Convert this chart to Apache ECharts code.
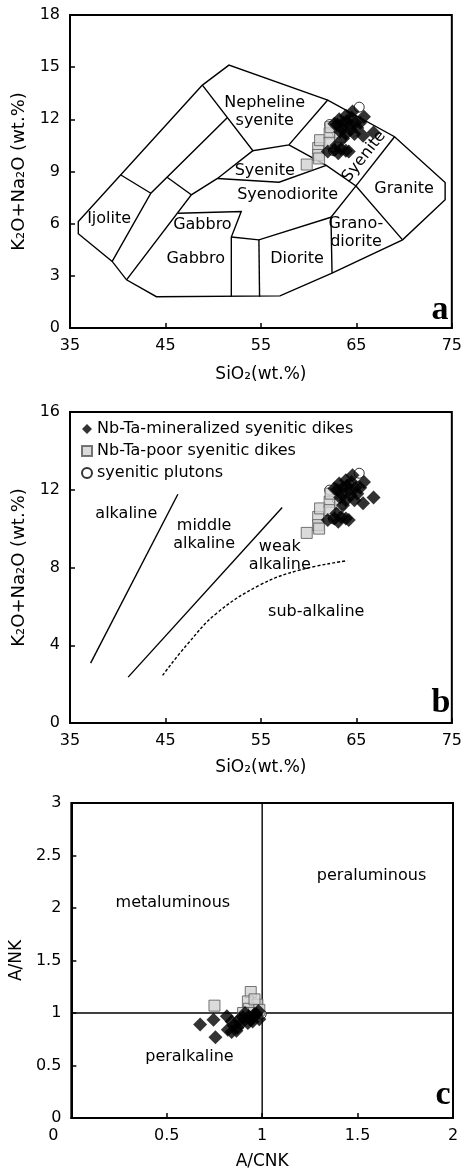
<!DOCTYPE html>
<html>
<head>
<meta charset="utf-8">
<script src="https://cdn.jsdelivr.net/npm/echarts@6/dist/echarts.min.js"></script>
<style>
  html, body { margin: 0; padding: 0; background: #fff; }
  #main { width: 465px; height: 1174px; }
</style>
</head>
<body>
<div id="main"></div>
<script>
// ---- 数据 ----
// Nb-Ta 矿化正长岩脉
var dikeSiO2 = [64.6, 65.8, 63.9, 63.2, 62.7, 63.4, 64.3, 65.1, 63.9, 64.8, 65.7, 66.8, 63.6, 62.0, 62.7, 63.4, 63.9, 62.9, 64.2, 63.1, 63.6, 64.0, 64.5, 63.0, 64.9, 64.4, 63.3, 65.4];
var dikeAlkA = [12.45, 12.15, 12.2, 12.0, 11.75, 11.5, 11.65, 11.5, 11.15, 11.15, 11.05, 11.25, 10.9, 10.15, 10.25, 10.3, 10.2, 10.5, 10.15, 10.05, 11.8, 11.9, 12.1, 11.7, 11.8, 11.4, 11.3, 11.8];
var dikeAlkB = [12.75, 12.4, 12.49, 12.32, 12.06, 11.8, 11.98, 11.8, 11.46, 11.46, 11.3, 11.6, 11.2, 10.44, 10.52, 10.6, 10.52, 10.78, 10.45, 10.35, 12.1, 12.2, 12.4, 12.0, 12.1, 11.7, 11.6, 12.1];
// Nb-Ta 贫化正长岩脉
var poorSiO2 = [59.8, 61.0, 61.0, 61.2, 62.2, 62.2, 63.3, 62.3, 61.1];
var poorAlkA = [9.4, 10.35, 9.95, 10.8, 11.2, 10.65, 11.0, 11.55, 9.75];
var poorAlkB = [9.78, 10.6, 10.18, 11.04, 11.38, 10.95, 11.29, 11.8, 10.0];
// 正长岩岩体
var plutonSiO2 = [65.3, 62.2, 63.0, 62.6];
var plutonAlkA = [12.7, 11.7, 11.2, 10.2];
var plutonAlkB = [12.85, 11.98, 11.5, 10.5];

// A/CNK - A/NK
var dikeACNK = [0.675, 0.745, 0.755, 0.815, 0.82, 0.85, 0.84, 0.88, 0.91, 0.955, 0.925, 0.98, 0.95, 0.89, 0.865, 0.84, 0.93, 0.985, 0.9, 0.97, 0.87, 0.94, 0.96];
var dikeANK  = [0.89, 0.935, 0.77, 0.97, 0.84, 0.88, 0.92, 0.94, 1.0, 0.96, 0.905, 1.02, 0.92, 0.9, 0.83, 0.82, 0.97, 0.94, 0.96, 0.99, 0.86, 0.93, 0.99];
var poorACNK = [0.75, 0.94, 0.925, 0.975, 0.93, 0.95, 0.96, 0.9, 0.985];
var poorANK  = [1.07, 1.2, 1.11, 1.08, 1.04, 1.0, 1.13, 1.0, 1.03];
var plutonACNK = [0.995, 0.88, 0.95];
var plutonANK  = [0.99, 0.93, 0.96];

// TAS 分区边界 (SiO2, K2O+Na2O)
var tasFields = [
  [[48.87, 13.97], [51.65, 15.12], [62.0, 13.11], [69.0, 11.0], [74.3, 8.37], [74.3, 7.38], [69.84, 5.07], [62.45, 3.16], [57.0, 1.85], [44.05, 1.8], [40.92, 2.77], [39.42, 3.83], [35.87, 5.42], [35.87, 6.12], [48.87, 13.97]],
  [[48.87, 13.97], [54.16, 10.2], [57.93, 10.53], [62.0, 13.11]],
  [[51.5, 12.1], [43.47, 7.75], [39.42, 3.83]],
  [[40.33, 8.8], [43.47, 7.75]],
  [[45.17, 8.67], [47.71, 7.66]],
  [[54.16, 10.2], [50.45, 8.6], [47.71, 7.66], [40.92, 2.77]],
  [[50.45, 8.6], [56.9, 8.38], [61.85, 9.35]],
  [[57.93, 10.53], [61.85, 9.35], [64.96, 8.17], [69.84, 5.07]],
  [[69.0, 11.0], [64.96, 8.17]],
  [[64.96, 8.17], [62.34, 6.37], [62.45, 3.16]],
  [[62.34, 6.37], [54.79, 5.07], [51.9, 5.23]],
  [[54.79, 5.07], [54.86, 1.8]],
  [[46.32, 6.6], [52.94, 6.7], [51.9, 5.23], [51.9, 1.8]]
];
var tasLabels = [
  ['Nepheline\nsyenite', 55.4, 12.44, 0],
  ['Syenite', 55.4, 9.05, 0],
  ['Syenite', 65.8, 9.86, 52],
  ['Syenodiorite', 57.8, 7.66, 0],
  ['Granite', 70.0, 7.98, 0],
  ['Grano-\ndiorite', 64.96, 5.5, 0],
  ['Ijolite', 39.1, 6.28, 0],
  ['Gabbro', 48.87, 5.93, 0],
  ['Gabbro', 48.17, 3.98, 0],
  ['Diorite', 58.78, 3.98, 0]
];

// 碱度分区线
var alkLines = [
  [[37.16, 3.08], [46.3, 11.77]],
  [[41.09, 2.36], [57.23, 11.09]]
];
var subAlkCurve = [[44.7, 2.45], [47.24, 4.02], [50.37, 5.65], [54.9, 7.1], [59.07, 7.87], [64.04, 8.35]];
var alkLabels = [
  ['alkaline', 40.9, 10.75, 0],
  ['middle\nalkaline', 49.05, 9.67, 0],
  ['weak\nalkaline', 56.98, 8.62, 0],
  ['sub-alkaline', 60.8, 5.73, 0]
];

// A/CNK-A/NK 分区
var acnkLines = [
  [[1, 0], [1, 3]],
  [[0, 1], [2, 1]]
];
var acnkLabels = [
  ['metaluminous', 0.532, 2.05, 0],
  ['peraluminous', 1.573, 2.31, 0],
  ['peralkaline', 0.619, 0.58, 0]
];

var NAME_DIKE = 'Nb-Ta-mineralized syenitic dikes';
var NAME_POOR = 'Nb-Ta-poor syenitic dikes';
var NAME_PLUTON = 'syenitic plutons';

var FONT = 'DejaVu Sans';
var TXT = '#000';

function zip(xs, ys) {
  return xs.map(function (x, i) { return [x, ys[i]]; });
}

function xAx(gi, min, max, interval, name, gap, fmt) {
  return {
    type: 'value', gridIndex: gi, min: min, max: max, interval: interval,
    name: name, nameLocation: 'middle', nameGap: gap,
    nameTextStyle: { fontFamily: FONT, fontSize: 17, color: TXT },
    axisLine: { show: true, onZero: false, lineStyle: { color: '#000', width: 2 } },
    axisTick: { show: true, inside: true, length: 5, lineStyle: { color: '#000', width: 1.5 } },
    axisLabel: {
      fontFamily: FONT, fontSize: 16, color: TXT, margin: 10,
      formatter: fmt,
      rich: { z: { fontFamily: FONT, fontSize: 16, color: TXT, padding: [0, 36, 0, 0] } }
    },
    splitLine: { show: false }
  };
}
function yAx(gi, min, max, interval, name, gap, size) {
  return {
    type: 'value', gridIndex: gi, min: min, max: max, interval: interval,
    name: name, nameLocation: 'middle', nameGap: gap, nameRotate: 90,
    nameTextStyle: { fontFamily: FONT, fontSize: size, color: TXT },
    axisLine: { show: true, onZero: false, lineStyle: { color: '#000', width: 2 } },
    axisTick: { show: true, inside: true, length: 5, lineStyle: { color: '#000', width: 1.5 } },
    axisLabel: { fontFamily: FONT, fontSize: 16, color: TXT, margin: 10 },
    splitLine: { show: false }
  };
}

function boundary(gi, paths) {
  return {
    type: 'lines', coordinateSystem: 'cartesian2d', xAxisIndex: gi, yAxisIndex: gi,
    polyline: true, silent: true, z: 2,
    lineStyle: { color: '#000', width: 1.4, opacity: 1 },
    data: paths.map(function (p) { return { coords: p }; })
  };
}

// 分区文字
function fieldText(gi, list) {
  return {
    type: 'scatter', xAxisIndex: gi, yAxisIndex: gi, silent: true, z: 2,
    symbol: 'circle', symbolSize: 1, itemStyle: { color: '#fff', opacity: 1 },
    label: {
      show: true, position: 'inside', formatter: '{b}', fontFamily: FONT, fontSize: 16,
      color: TXT, lineHeight: 18, opacity: 1, textBorderWidth: 0
    },
    data: list.map(function (l) { return { name: l[0], value: [l[1], l[2]], label: { rotate: l[3] } }; })
  };
}

function points(gi, name, data) {
  var s = { type: 'scatter', name: name, xAxisIndex: gi, yAxisIndex: gi, data: data, z: 5 };
  if (name === NAME_DIKE) {
    s.symbol = 'diamond'; s.symbolSize = 14; s.itemStyle = { color: '#000' }; s.z = 7;
  } else if (name === NAME_POOR) {
    s.symbol = 'rect'; s.symbolSize = 11; s.itemStyle = { color: '#d2d2d2', borderColor: '#555', borderWidth: 1 }; s.z = 6;
  } else {
    s.symbol = 'circle'; s.symbolSize = 10; s.itemStyle = { color: '#fff', borderColor: '#000', borderWidth: 1 };
  }
  return s;
}

var chart = echarts.init(document.getElementById('main'));

var option = {
  animation: false,
  grid: [
    { left: 70, top: 15, width: 383, height: 313, show: true, borderColor: '#000', borderWidth: 2 },
    { left: 70, top: 412, width: 383, height: 311, show: true, borderColor: '#000', borderWidth: 2 },
    { left: 70, top: 803, width: 383, height: 315, show: true, borderColor: '#000', borderWidth: 2 }
  ],
  xAxis: [
    xAx(0, 35, 75, 10, 'SiO₂(wt.%)', 38),
    xAx(1, 35, 75, 10, 'SiO₂(wt.%)', 36),
    xAx(2, 0, 2, 0.5, 'A/CNK', 35, function (v) { return v === 0 ? '{z|0}' : String(v); })
  ],
  yAxis: [
    yAx(0, 0, 18, 3, 'K₂O+Na₂O (wt.%)', 41, 18),
    yAx(1, 0, 16, 4, 'K₂O+Na₂O (wt.%)', 41, 18),
    yAx(2, 0, 3, 0.5, 'A/NK', 36, 17)
  ],
  legend: {
    data: [NAME_DIKE, NAME_POOR, NAME_PLUTON],
    orient: 'vertical', left: 76, top: 416,
    itemWidth: 10, itemHeight: 10, itemGap: 6,
    textStyle: { fontFamily: FONT, fontSize: 16, color: TXT },
    selectedMode: false
  },
  graphic: [
    { type: 'text', x: 440, y: 310, style: { text: 'a', font: 'bold 34px "Liberation Serif"', fill: '#000', align: 'center', verticalAlign: 'middle' } },
    { type: 'text', x: 441, y: 703, style: { text: 'b', font: 'bold 34px "Liberation Serif"', fill: '#000', align: 'center', verticalAlign: 'middle' } },
    { type: 'text', x: 443, y: 1095, style: { text: 'c', font: 'bold 34px "Liberation Serif"', fill: '#000', align: 'center', verticalAlign: 'middle' } }
  ],
  series: [
    boundary(0, tasFields),
    fieldText(0, tasLabels),
    points(0, NAME_PLUTON, zip(plutonSiO2, plutonAlkA)),
    points(0, NAME_POOR, zip(poorSiO2, poorAlkA)),
    points(0, NAME_DIKE, zip(dikeSiO2, dikeAlkA)),

    boundary(1, alkLines),
    {
      type: 'line', xAxisIndex: 1, yAxisIndex: 1, data: subAlkCurve, smooth: 0.4,
      showSymbol: false, silent: true, z: 2,
      lineStyle: { color: '#000', width: 1.4, type: [3, 2] }
    },
    fieldText(1, alkLabels),
    points(1, NAME_PLUTON, zip(plutonSiO2, plutonAlkB)),
    points(1, NAME_POOR, zip(poorSiO2, poorAlkB)),
    points(1, NAME_DIKE, zip(dikeSiO2, dikeAlkB)),

    boundary(2, acnkLines),
    fieldText(2, acnkLabels),
    points(2, NAME_PLUTON, zip(plutonACNK, plutonANK)),
    points(2, NAME_POOR, zip(poorACNK, poorANK)),
    points(2, NAME_DIKE, zip(dikeACNK, dikeANK))
  ]
};

chart.setOption(option);
window.addEventListener('resize', function () {
  chart.resize();
});
</script>
</body>
</html>
